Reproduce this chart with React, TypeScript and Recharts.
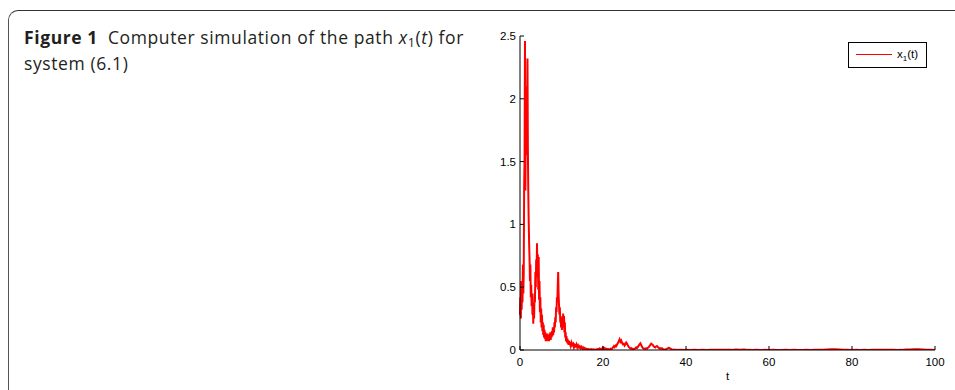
import React from 'react';
import { LineChart, Line, XAxis, YAxis, Legend } from 'recharts';

// Sampling grid for each segment of the path (start, step)
const earlyStart = 0;
const earlyStep = 0.1;
const midStart = 12;
const midStep = 0.2;
const lateStart = 40;
const lateStep = 1;

// x1(t) values, t = 0.0 .. 11.9 (step 0.1)
const earlyValues = [
  0.28, 0.42, 0.25, 0.55, 0.32, 0.48, 0.38, 0.68, 0.45, 0.62,
  1.30, 1.52, 2.46, 1.27, 1.95, 1.55, 2.10, 1.70, 2.32, 1.60,
  1.25, 1.02, 0.85, 0.72, 0.55, 0.68, 0.42, 0.52, 0.35, 0.45,
  0.28, 0.38, 0.21, 0.33, 0.25, 0.45, 0.38, 0.62, 0.50, 0.72,
  0.58, 0.85, 0.62, 0.76, 0.48, 0.74, 0.40, 0.55, 0.30, 0.42,
  0.22, 0.33, 0.18, 0.28, 0.15, 0.22, 0.12, 0.20, 0.10, 0.16,
  0.09, 0.14, 0.07, 0.12, 0.08, 0.13, 0.07, 0.11, 0.08, 0.12,
  0.07, 0.13, 0.09, 0.14, 0.08, 0.12, 0.10, 0.15, 0.11, 0.18,
  0.12, 0.18, 0.14, 0.22, 0.18, 0.26, 0.22, 0.34, 0.30, 0.42,
  0.38, 0.52, 0.62, 0.45, 0.36, 0.28, 0.34, 0.22, 0.27, 0.18,
  0.24, 0.16, 0.26, 0.20, 0.29, 0.18, 0.27, 0.14, 0.22, 0.10,
  0.14, 0.07, 0.11, 0.06, 0.09, 0.05, 0.08, 0.04, 0.07, 0.04,
];

// x1(t) values, t = 12.0 .. 39.8 (step 0.2)
const midValues = [
  0.05, 0.03, 0.06, 0.04, 0.05, 0.02, 0.04, 0.03, 0.045, 0.02, 0.035, 0.02, 0.03, 0.015, 0.025,
  0.01, 0.02, 0.008, 0.015, 0.005, 0.01, 0.004, 0.008, 0.003, 0.006, 0.004, 0.007, 0.003, 0.005, 0.002,
  0.004, 0.003, 0.006, 0.004, 0.008, 0.005, 0.012, 0.006, 0.01, 0.004,
  0.02, 0.008, 0.015, 0.005, 0.01, 0.004, 0.008, 0.003, 0.006, 0.01, 0.005, 0.012, 0.02, 0.03, 0.022,
  0.035, 0.03, 0.045, 0.055, 0.07, 0.085, 0.065, 0.075, 0.055, 0.045,
  0.05, 0.035, 0.045, 0.06, 0.05, 0.035, 0.025, 0.018, 0.012, 0.015, 0.008, 0.01, 0.006, 0.01, 0.012,
  0.02, 0.015, 0.025, 0.035, 0.045, 0.053, 0.04, 0.025, 0.015, 0.01,
  0.012, 0.008, 0.014, 0.01, 0.018, 0.022, 0.03, 0.042, 0.05, 0.045, 0.04, 0.03, 0.025, 0.02, 0.028,
  0.032, 0.025, 0.018, 0.012, 0.015, 0.01, 0.014, 0.008, 0.006, 0.005,
  0.004, 0.006, 0.01, 0.014, 0.018, 0.016, 0.012, 0.008, 0.005, 0.003, 0.002, 0.003, 0.002, 0.001, 0.002,
  0.001, 0.001, 0.002, 0.001, 0.001, 0.001, 0.0005, 0.001, 0.0005, 0.0005,
];

// x1(t) values, t = 40 .. 100 (step 1)
const lateValues = [
  0.001, 0.0005, 0.001, 0.0005, 0.001, 0.0005, 0.001, 0.001, 0.002, 0.0015,
  0.002, 0.001, 0.003, 0.002, 0.003, 0.001, 0.0005, 0.001, 0.0005, 0.001,
  0.0005, 0.001, 0.0005, 0.0005, 0.001, 0.0005, 0.001, 0.0005, 0.0005, 0.001,
  0.0005, 0.001, 0.001, 0.002, 0.004, 0.005, 0.005, 0.004, 0.002, 0.001,
  0.0005, 0.001, 0.0005, 0.001, 0.0005, 0.001, 0.002, 0.002, 0.001, 0.002,
  0.001, 0.0005, 0.001, 0.003, 0.004, 0.005, 0.005, 0.004, 0.002, 0.001,
  0.0005,
];

const xTicks = [0, 20, 40, 60, 80, 100];
const yTicks = [0, 0.5, 1, 1.5, 2, 2.5];
const seriesName = 'x1(t)';

const buildSegment = (start: number, step: number, values: number[]) =>
  values.map((v, i) => ({ t: +(start + i * step).toFixed(2), x1: v }));

const chartData = [
  ...buildSegment(earlyStart, earlyStep, earlyValues),
  ...buildSegment(midStart, midStep, midValues),
  ...buildSegment(lateStart, lateStep, lateValues),
];

const TICK_FONT = '"Liberation Sans", Arial, Helvetica, sans-serif';

const BottomTick = (props: any) => {
  const { x, y, payload } = props;
  return (
    <g>
      <line x1={x} y1={y} x2={x} y2={y - 4} stroke="#000" strokeWidth={1} />
      <text x={x} y={y + 12} textAnchor="middle" dominantBaseline="central" fontSize={11.5} fontFamily={TICK_FONT} fill="#000">
        {payload.value}
      </text>
    </g>
  );
};

const TopTick = (props: any) => {
  const { x, y } = props;
  return <line x1={x} y1={y} x2={x} y2={y + 4} stroke="#000" strokeWidth={1} />;
};

const LeftTick = (props: any) => {
  const { x, y, payload } = props;
  return (
    <g>
      <line x1={x} y1={y} x2={x + 4} y2={y} stroke="#000" strokeWidth={1} />
      <text x={x - 4} y={y} textAnchor="end" dominantBaseline="central" fontSize={11.5} fontFamily={TICK_FONT} fill="#000">
        {payload.value}
      </text>
    </g>
  );
};

const RightTick = (props: any) => {
  const { x, y } = props;
  return <line x1={x} y1={y} x2={x - 4} y2={y} stroke="#000" strokeWidth={1} />;
};

const LegendBox = () => (
  <svg width={79} height={26} style={{ display: 'block' }}>
    <rect x={0.5} y={0.5} width={78} height={25} fill="#fff" stroke="#000" strokeWidth={1} />
    <line x1={8} y1={12.5} x2={44} y2={12.5} stroke="#ff0000" strokeWidth={1} />
    <text x={49} y={16} fontSize={11.5} fontFamily={TICK_FONT} fill="#000">
      x
      <tspan fontSize={8} dy={3}>1</tspan>
      <tspan fontSize={11.5} dy={-3}>(t)</tspan>
    </text>
  </svg>
);

export default function App() {
  return (
    <div style={{ position: 'absolute', left: 0, top: 0, width: 955, height: 390, background: '#fff', overflow: 'hidden' }}>
      <div
        style={{
          position: 'absolute',
          left: 8,
          top: 10,
          width: 960,
          height: 400,
          borderTop: '1px solid #333',
          borderLeft: '1px solid #555',
          borderTopLeftRadius: 10,
          boxSizing: 'border-box',
        }}
      />
      <div
        style={{
          position: 'absolute',
          left: 24,
          top: 26,
          width: 470,
          whiteSpace: 'nowrap',
          fontFamily: '"Open Sans", sans-serif',
          fontSize: 17.5,
          letterSpacing: 0.6,
          lineHeight: '22.6px',
          color: '#231f20',
        }}
      >
        <span style={{ fontWeight: 700, marginRight: 10 }}>Figure 1</span>
        Computer simulation of the path <i>x</i>
        <span style={{ fontSize: '0.72em', position: 'relative', top: '0.25em' }}>1</span>(<i>t</i>) for
        <br />
        system (6.1)
      </div>
      <div style={{ position: 'absolute', left: 0, top: 0 }}>
        <LineChart width={955} height={390} data={chartData} margin={{ top: 36, right: 20, bottom: 0, left: 490 }}>
          <XAxis
            dataKey="t"
            type="number"
            domain={[0, 100]}
            ticks={xTicks}
            height={40}
            axisLine={{ stroke: '#000', strokeWidth: 1 }}
            tickLine={false}
            tickSize={0}
            tickMargin={0}
            tick={<BottomTick />}
            interval={0}
            label={{ value: 't', position: 'insideBottom', offset: 10, fontSize: 11.5, fontFamily: TICK_FONT, fill: '#000' }}
          />
          <XAxis
            xAxisId="top"
            orientation="top"
            type="number"
            domain={[0, 100]}
            ticks={xTicks}
            height={0}
            axisLine={{ stroke: '#000', strokeWidth: 1 }}
            tickLine={false}
            tickSize={0}
            tickMargin={0}
            tick={<TopTick />}
            interval={0}
          />
          <YAxis
            type="number"
            domain={[0, 2.5]}
            ticks={yTicks}
            width={30}
            axisLine={{ stroke: '#000', strokeWidth: 1 }}
            tickLine={false}
            tickSize={0}
            tickMargin={0}
            tick={<LeftTick />}
            interval={0}
            allowDataOverflow
          />
          <YAxis
            yAxisId="right"
            orientation="right"
            type="number"
            domain={[0, 2.5]}
            ticks={yTicks}
            width={0}
            axisLine={{ stroke: '#000', strokeWidth: 1 }}
            tickLine={false}
            tickSize={0}
            tickMargin={0}
            tick={<RightTick />}
            interval={0}
          />
          <Legend
            layout="vertical"
            align="center"
            verticalAlign="middle"
            content={<LegendBox />}
            wrapperStyle={{ position: 'absolute', left: 848, top: 42, width: 79, height: 26 }}
          />
          <Line
            type="linear"
            dataKey="x1"
            name={seriesName}
            stroke="#ff0000"
            strokeWidth={2}
            dot={false}
            activeDot={false}
            isAnimationActive={false}
          />
        </LineChart>
      </div>
    </div>
  );
}
